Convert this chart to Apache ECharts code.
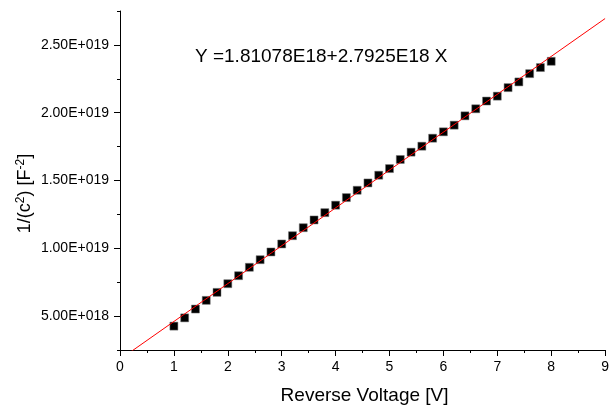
<!DOCTYPE html>
<html>
<head>
<meta charset="utf-8">
<script src="https://cdn.jsdelivr.net/npm/echarts@6/dist/echarts.min.js"></script>
<style>
  html, body { margin: 0; padding: 0; background: #fff; }
  #chart { width: 612px; height: 412px; }
</style>
</head>
<body>
<div id="chart"></div>
<script>
  // reverse voltage [V]
  var voltage = [1.0, 1.2, 1.4, 1.6, 1.8, 2.0, 2.2, 2.4, 2.6, 2.8,
                 3.0, 3.2, 3.4, 3.6, 3.8, 4.0, 4.2, 4.4, 4.6, 4.8,
                 5.0, 5.2, 5.4, 5.6, 5.8, 6.0, 6.2, 6.4, 6.6, 6.8,
                 7.0, 7.2, 7.4, 7.6, 7.8, 8.0];
  // 1/C^2
  var invC2 = [4.26e18, 4.87e18, 5.52e18, 6.16e18, 6.75e18, 7.39e18, 7.98e18, 8.60e18, 9.16e18, 9.73e18,
               1.032e19, 1.093e19, 1.152e19, 1.209e19, 1.263e19, 1.318e19, 1.374e19, 1.428e19, 1.482e19, 1.539e19,
               1.588e19, 1.655e19, 1.709e19, 1.753e19, 1.812e19, 1.859e19, 1.908e19, 1.977e19, 2.029e19, 2.086e19,
               2.122e19, 2.185e19, 2.227e19, 2.288e19, 2.333e19, 2.379e19];
  // linear fit Y = A + B X
  var fitA = 1.81078e18;
  var fitB = 2.7925e18;
  var fitX = [0, 9];
  var yMajorTicks = [5e18, 1e19, 1.5e19, 2e19, 2.5e19];

  var font = '"Liberation Sans", Arial, sans-serif';

  function sciLabel(v) {
    var parts = v.toExponential(2).split('e');
    var exp = parseInt(parts[1], 10);
    var sign = exp < 0 ? '-' : '+';
    var digits = String(Math.abs(exp));
    while (digits.length < 3) digits = '0' + digits;
    return parts[0] + 'E' + sign + digits;
  }

  var scatterData = voltage.map(function (x, i) { return [x, invC2[i]]; });
  var fitData = fitX.map(function (x) { return [x, fitA + fitB * x]; });

  var chart = echarts.init(document.getElementById('chart'));
  chart.setOption({
    animation: false,
    textStyle: { fontFamily: font },
    grid: { left: 120, right: 3, top: 11, bottom: 62 },
    graphic: [{
      type: 'text',
      left: 195,
      top: 47,
      style: {
        text: 'Y =1.81078E18+2.7925E18 X',
        font: '19px ' + font,
        fill: '#000'
      }
    }],
    xAxis: {
      type: 'value',
      min: 0,
      max: 9,
      interval: 1,
      name: 'Reverse Voltage [V]',
      nameLocation: 'middle',
      nameGap: 36,
      nameTextStyle: { fontSize: 19, color: '#000', fontFamily: font, padding: [0, 0, 0, 4] },
      axisLine: { show: true, lineStyle: { color: '#000', width: 1 } },
      axisTick: { show: true, length: 6, lineStyle: { color: '#000' } },
      minorTick: { show: true, splitNumber: 2, length: 3, lineStyle: { color: '#000' } },
      axisLabel: { fontSize: 14, color: '#000', margin: 10, fontFamily: font },
      splitLine: { show: false }
    },
    yAxis: [{
      type: 'value',
      min: 2.5e18,
      max: 2.75e19,
      interval: 2.5e18,
      name: '{n|1/(c}{s|2}{n|) [F}{s|-2}{n|]}',
      nameLocation: 'middle',
      nameGap: 84,
      nameRotate: 90,
      nameTextStyle: {
        color: '#000',
        padding: [0, 26, 0, 0],
        rich: {
          n: { fontSize: 18, fontFamily: font, color: '#000' },
          s: { fontSize: 12, fontFamily: font, color: '#000', verticalAlign: 'top', padding: [0, 0, 9, 0] }
        }
      },
      axisLine: { show: true, lineStyle: { color: '#000', width: 1 } },
      axisTick: { show: true, length: 3, lineStyle: { color: '#000' } },
      axisLabel: { show: false },
      splitLine: { show: false }
    }, {
      type: 'value',
      position: 'left',
      min: 2.5e18,
      max: 2.75e19,
      interval: 2.5e18,
      axisLine: { show: false },
      axisTick: { show: true, length: 6, customValues: yMajorTicks, lineStyle: { color: '#000' } },
      axisLabel: {
        fontSize: 14, color: '#000', margin: 11, fontFamily: font,
        customValues: yMajorTicks,
        formatter: sciLabel
      },
      splitLine: { show: false }
    }],
    series: [{
      name: 'fit',
      type: 'line',
      data: fitData,
      showSymbol: false,
      symbol: 'none',
      lineStyle: { color: '#ff0000', width: 1 },
      clip: true,
      z: 3
    }, {
      name: '1/C2',
      type: 'scatter',
      data: scatterData,
      symbol: 'rect',
      symbolSize: 8,
      itemStyle: { color: '#000', opacity: 1, borderColor: '#777', borderWidth: 0.5 },
      z: 2
    }]
  });
</script>
</body>
</html>
